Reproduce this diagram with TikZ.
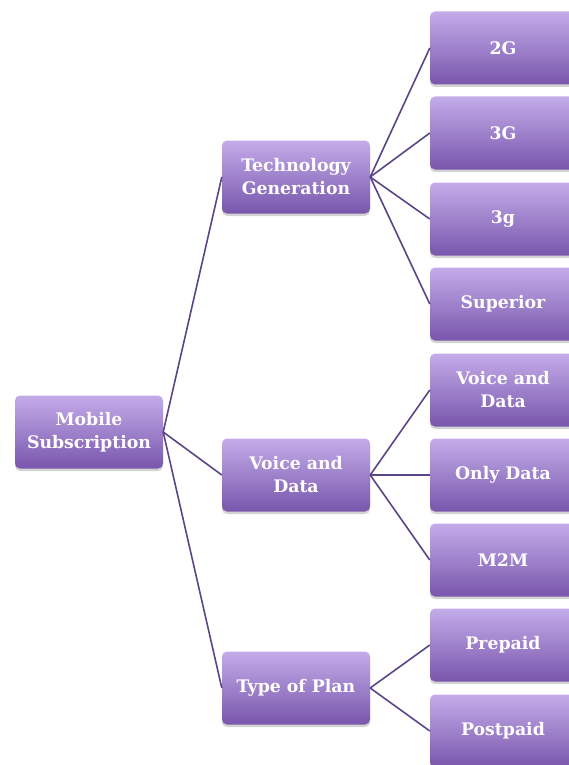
\documentclass[tikz,border=0pt]{standalone}
\usepackage{fontspec}
\setmainfont{DejaVu Serif}
\usetikzlibrary{shadows}
\definecolor{boxtop}{HTML}{C4ACEA}
\definecolor{boxbot}{HTML}{7856AC}
\definecolor{linec}{HTML}{5C4587}
\tikzset{
  box/.style={rounded corners=5pt, top color=boxtop, bottom color=boxbot, draw=none,
    minimum width=148pt, minimum height=73pt, inner sep=0pt, align=center,
    text=white, font=\fontsize{17.3}{23}\selectfont\bfseries,
    drop shadow={opacity=0.35, shadow xshift=0pt, shadow yshift=-2.5pt}},
  leaf/.style={box, minimum width=146pt},
  conn/.style={draw=linec, line width=1.6pt}
}
\begin{document}
\begin{tikzpicture}[x=1pt,y=-1pt]
\useasboundingbox (0,0) rectangle (569,765);
\clip (0,0) rectangle (569,765);
\node[box] (root) at (89,432) {Mobile\\Subscription};
\node[box] (tech) at (296,177) {Technology\\Generation};
\node[box] (vd) at (296,475) {Voice and\\Data};
\node[box] (plan) at (296,688) {Type of Plan};
\node[leaf] (g2) at (503,48) {2G};
\node[leaf] (g3) at (503,133) {3G};
\node[leaf] (g3s) at (503,219) {3g};
\node[leaf] (sup) at (503,304) {Superior};
\node[leaf] (vd2) at (503,390) {Voice and\\Data};
\node[leaf] (od) at (503,475) {Only Data};
\node[leaf] (m2m) at (503,560) {M2M};
\node[leaf] (pre) at (503,645) {Prepaid};
\node[leaf] (post) at (503,731) {Postpaid};
\draw[conn] (root.east) -- (tech.west);
\draw[conn] (root.east) -- (vd.west);
\draw[conn] (root.east) -- (plan.west);
\foreach \c in {g2,g3,g3s,sup} \draw[conn] (tech.east) -- (\c.west);
\foreach \c in {vd2,od,m2m} \draw[conn] (vd.east) -- (\c.west);
\foreach \c in {pre,post} \draw[conn] (plan.east) -- (\c.west);
\end{tikzpicture}
\end{document}
